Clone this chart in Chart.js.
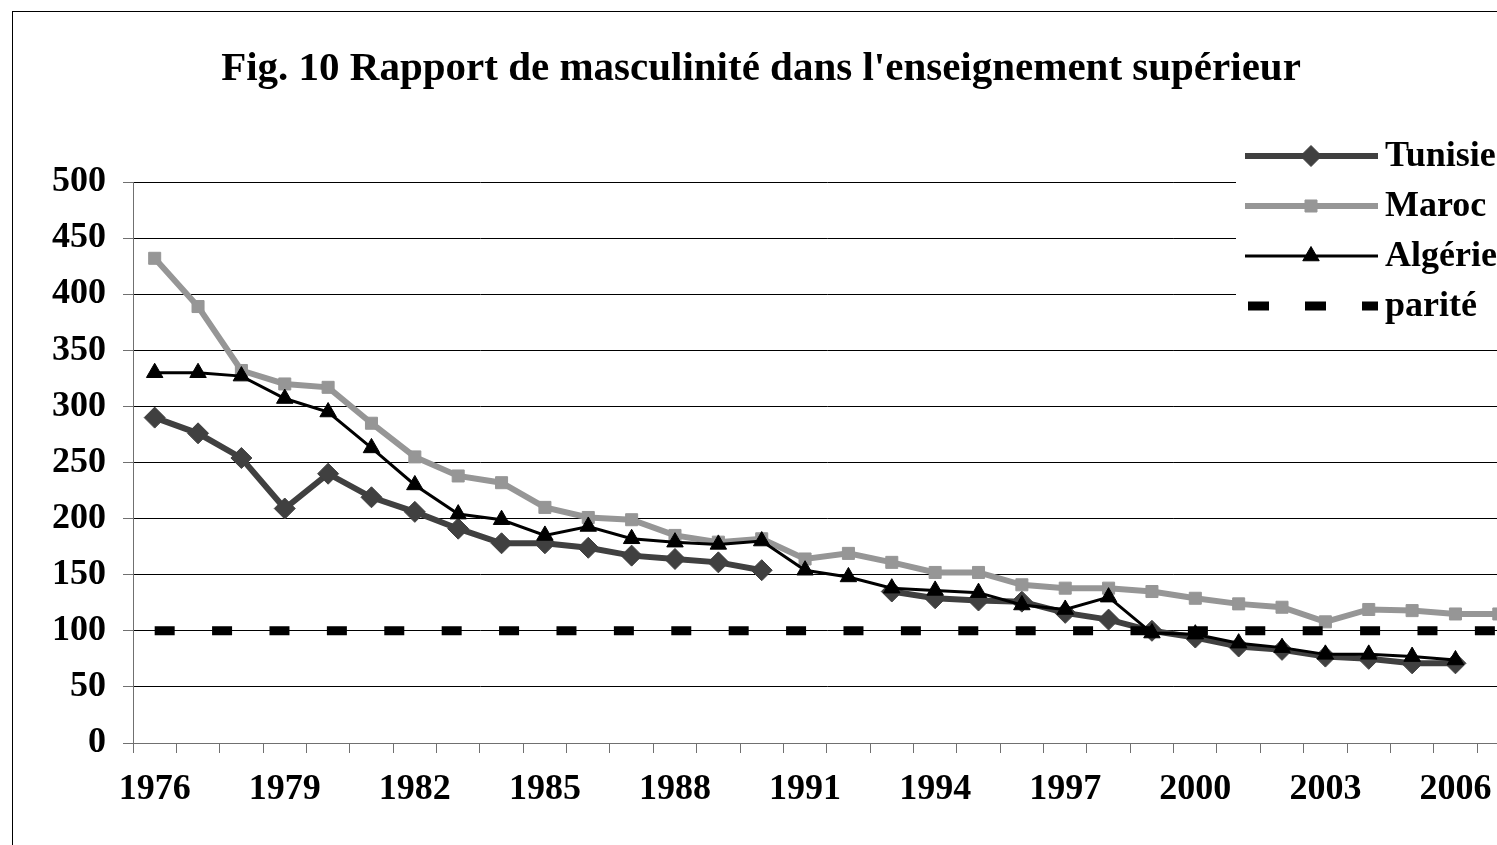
<!DOCTYPE html>
<html><head><meta charset="utf-8">
<script src="https://cdn.jsdelivr.net/npm/chart.js@4.4.1/dist/chart.umd.min.js"></script>
<style>
html,body{margin:0;padding:0;background:#fff;overflow:hidden;width:1497px;height:845px;}
#wrap{position:relative;width:1497px;height:845px;overflow:hidden;background:#fff;}
#c{position:absolute;left:0;top:0;}
#frame{position:absolute;left:12px;top:11px;width:1600px;height:900px;border:1px solid #000;pointer-events:none;}
</style></head><body>
<div id="wrap"><canvas id="c" width="1532" height="860"></canvas><div id="frame"></div></div>
<script>
const titleText = "Fig. 10 Rapport de masculinité dans l'enseignement supérieur";
const years = ['1976','1977','1978','1979','1980','1981','1982','1983','1984','1985','1986','1987','1988','1989','1990','1991',
               '1992','1993','1994','1995','1996','1997','1998','1999','2000','2001','2002','2003','2004','2005','2006','2007'];
const shownYears = ['1976','1979','1982','1985','1988','1991','1994','1997','2000','2003','2006'];
const tunisie = [290,276,254,209,240,219,206,191,178,178,174,167,164,161,154,null,
                 null,135,129,127,126,116,110,100,94,86,83,77,75,71,71,null];
const maroc   = [432,389,332,320,317,285,255,238,232,210,201,199,185,179,182,164,
                 169,161,152,152,141,138,138,135,129,124,121,108,119,118,115,115];
const algerie = [330,330,327,307,295,263,230,204,199,185,193,182,179,177,180,154,
                 148,138,136,134,123,119,130,98,97,89,85,79,79,77,74,null];
const parite  = [100,100,100,100,100,100,100,100,100,100,100,100,100,100,100,100,
                 100,100,100,100,100,100,100,100,100,100,100,100,100,100,100,100];
const seriesNames = ['Tunisie','Maroc','Algérie','parité'];
const yTickValues = [0,50,100,150,200,250,300,350,400,450,500];

const serif = 'Liberation Serif, Times New Roman, serif';

const legendPlugin = {
  id: 'customLegend',
  afterDraw(chart) {
    const ctx = chart.ctx;
    ctx.save();
    ctx.fillStyle = '#fff';
    ctx.fillRect(1236, 137, 400, 195);
    chart.data.datasets.forEach((ds, i) => {
      const y = 156 + i * 50;
      ctx.save();
      ctx.strokeStyle = ds.borderColor;
      ctx.lineWidth = ds.borderWidth;
      ctx.lineCap = 'butt';
      if (ds.borderDash) { ctx.setLineDash([21, 36]); }
      ctx.beginPath();
      ctx.moveTo(ds.borderDash ? 1248 : 1245, y);
      ctx.lineTo(1378, y);
      ctx.stroke();
      ctx.restore();
      if (ds.pointRadius > 0) {
        ctx.save();
        ctx.fillStyle = ds.pointBackgroundColor;
        ctx.strokeStyle = ds.pointBorderColor;
        ctx.lineWidth = 1;
        Chart.helpers.drawPoint(ctx, {pointStyle: ds.pointStyle, radius: ds.pointRadius, rotation: 0, borderWidth: 1}, 1311, y);
        ctx.restore();
      }
      ctx.fillStyle = '#000';
      ctx.font = 'bold 36px ' + serif;
      ctx.textBaseline = 'middle';
      ctx.textAlign = 'left';
      ctx.fillText(ds.label, 1385, y + 1);
    });
    ctx.restore();
  }
};

new Chart(document.getElementById('c'), {
  type: 'line',
  data: {
    labels: years,
    datasets: [
      {label: seriesNames[0], data: tunisie, borderColor: '#404040', borderWidth: 6, pointStyle: 'rectRot', pointRadius: 10.5,
       pointBackgroundColor: '#404040', pointBorderColor: '#404040', pointBorderWidth: 1, spanGaps: false, order: 4, tension: 0},
      {label: seriesNames[1], data: maroc, borderColor: '#969696', borderWidth: 6, pointStyle: 'rect', pointRadius: 8.5,
       pointBackgroundColor: '#969696', pointBorderColor: '#969696', pointBorderWidth: 1, order: 3, tension: 0},
      {label: seriesNames[2], data: algerie, borderColor: '#000', borderWidth: 3, pointStyle: 'triangle', pointRadius: 9.5,
       pointBackgroundColor: '#000', pointBorderColor: '#000', pointBorderWidth: 1, order: 2, tension: 0},
      {label: seriesNames[3], data: parite, borderColor: '#000', borderWidth: 9, borderDash: [20, 37.4], borderCapStyle: 'butt',
       pointRadius: 0, order: 1, tension: 0}
    ]
  },
  options: {
    responsive: false,
    animation: false,
    devicePixelRatio: 1,
    layout: {padding: {left: 0, right: 10, top: 0, bottom: 17}},
    plugins: {
      legend: {display: false},
      tooltip: {enabled: false},
      title: {display: true, text: titleText, color: '#000',
              font: {family: serif, size: 41, weight: 'bold'}, padding: {top: 44.5, bottom: 88.3}}
    },
    scales: {
      x: {
        type: 'category', offset: true,
        grid: {offset: true, drawOnChartArea: false, drawTicks: true, tickLength: 10, tickColor: '#707070', color: '#707070'},
        border: {color: '#707070', width: 1},
        ticks: {autoSkip: false, maxRotation: 0, minRotation: 0, padding: 15, color: '#000',
                font: {family: serif, size: 36, weight: 'bold'},
                callback: function(v) { const l = this.getLabelForValue(v); return shownYears.includes(l) ? l : ''; }},
        afterFit: (s) => { s.height = 100; }
      },
      y: {
        min: 0, max: 500,
        afterBuildTicks: (s) => { s.ticks = yTickValues.map(v => ({value: v})); },
        grid: {color: '#000', tickColor: '#707070', tickLength: 10, lineWidth: 1},
        border: {color: '#707070', width: 1},
        ticks: {padding: 17, color: '#000', font: {family: serif, size: 36, weight: 'bold'}},
        afterFit: (s) => { s.width = 133; }
      }
    }
  },
  plugins: [legendPlugin]
});
</script>
</body></html>
